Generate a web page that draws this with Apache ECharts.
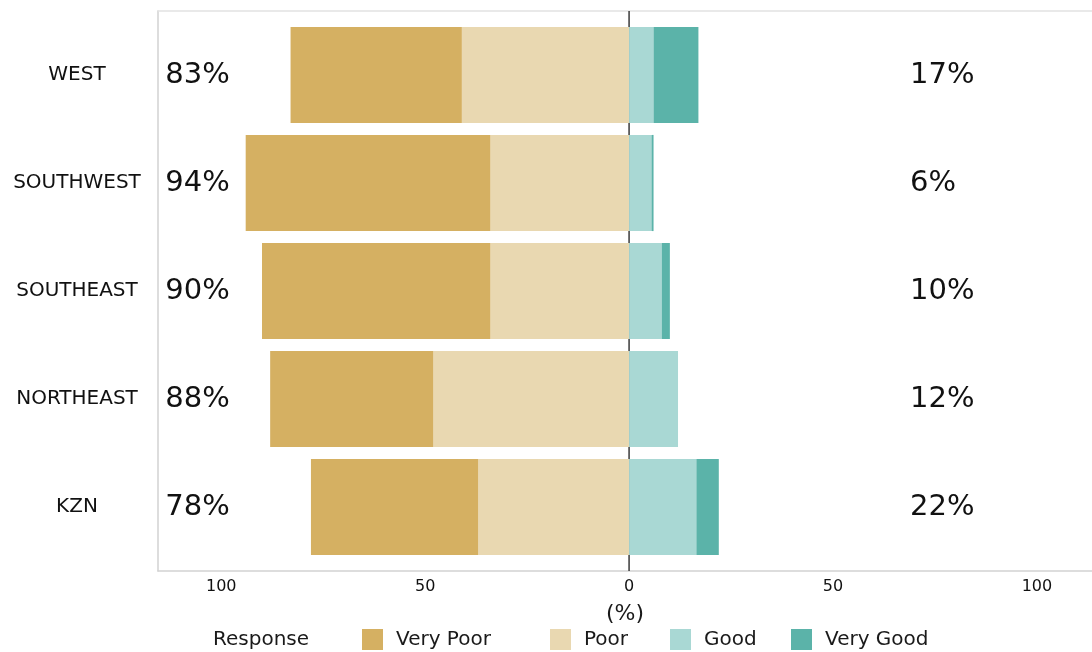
<!DOCTYPE html>
<html><head><meta charset="utf-8">
<script src="https://cdn.jsdelivr.net/npm/echarts@6/dist/echarts.min.js"></script>
<style>html,body{margin:0;padding:0;background:#fff}#c{width:1092px;height:652px}</style>
</head><body><div id="c"></div>
<script>
const categories = ['WEST', 'SOUTHWEST', 'SOUTHEAST', 'NORTHEAST', 'KZN'];
const veryPoor = [42, 60, 56, 40, 41];
const poor = [41, 34, 34, 48, 37];
const good = [6, 5.5, 8, 12, 16.5];
const veryGood = [11, 0.5, 2, 0, 5.5];
const negPct = [83, 94, 90, 88, 78];
const posPct = [17, 6, 10, 12, 22];
const xTickLabels = [-100, -50, 0, 50, 100];
const legendNames = ['Very Poor', 'Poor', 'Good', 'Very Good'];

const colors = { 'Very Poor': '#D5B062', 'Poor': '#E9D8B1', 'Good': '#A9D8D4', 'Very Good': '#5BB3A9' };
const FONT = 'DejaVu Sans';
const XMIN = -115.5, XMAX = 113.5;
const LEFT_LABEL_X = -113.7, RIGHT_LABEL_X = 68.9;
const BORDER = '#d2d2d2';

const chart = echarts.init(document.getElementById('c'), null, { renderer: 'canvas' });

function barSeries(name, arr, sign) {
  return {
    name, type: 'bar', stack: 'tot', xAxisIndex: 0, yAxisIndex: 0,
    barWidth: '89%', z: 3,
    itemStyle: { color: colors[name] },
    data: arr.map(v => sign * v)
  };
}
function pctSeries(arr, x) {
  return {
    type: 'scatter', xAxisIndex: 0, yAxisIndex: 0, symbolSize: 0, z: 5, silent: true,
    itemStyle: { opacity: 1 },
    data: arr.map((v, i) => [x, categories[i], v]),
    label: { show: true, position: 'inside', align: 'left', verticalAlign: 'middle',
      formatter: p => p.value[2] + '%', fontFamily: FONT, fontSize: 29, color: '#111' }
  };
}
const legendLefts = [362, 550, 670, 791];

chart.setOption({
  animation: false,
  backgroundColor: '#fff',
  title: { text: 'Response', left: 213, top: 630, padding: 0,
    textStyle: { fontFamily: FONT, fontSize: 20, fontWeight: 'normal', color: '#1a1a1a' } },
  legend: legendNames.map((n, i) => ({
    data: [n], left: legendLefts[i], top: 629, padding: 0,
    itemWidth: 21, itemHeight: 21, icon: 'rect',
    textStyle: { fontFamily: FONT, fontSize: 20, color: '#1a1a1a', padding: [0, 0, 0, 8] },
    selectedMode: false
  })),
  grid: [
    { left: 158, right: 0, top: 21, height: 540 },
    { left: 158, right: 0, top: 11, height: 560 }
  ],
  xAxis: [
    { type: 'value', gridIndex: 0, min: XMIN, max: XMAX, show: false },
    { type: 'value', gridIndex: 1, min: XMIN, max: XMAX,
      axisLine: { show: true, onZero: false, lineStyle: { color: BORDER, width: 1.5 } },
      axisTick: { show: false }, splitLine: { show: false },
      axisLabel: { fontFamily: FONT, fontSize: 16, color: '#111', margin: 8,
        showMinLabel: false, showMaxLabel: false,
        formatter: v => xTickLabels.includes(v) ? String(Math.abs(v)) : '' },
      name: '(%)', nameLocation: 'middle', nameGap: 32,
      nameTextStyle: { fontFamily: FONT, fontSize: 22, color: '#1a1a1a' } },
    { type: 'value', gridIndex: 1, min: XMIN, max: XMAX, position: 'top',
      axisLine: { show: true, onZero: false, lineStyle: { color: '#e2e2e2', width: 1.5 } },
      axisTick: { show: false }, axisLabel: { show: false }, splitLine: { show: false } }
  ],
  yAxis: [
    { type: 'category', gridIndex: 0, data: categories, inverse: true,
      axisLine: { show: false }, axisTick: { show: false }, splitLine: { show: false },
      axisLabel: { align: 'center', margin: 81, fontFamily: FONT, fontSize: 20, color: '#111' } },
    { type: 'value', gridIndex: 1, min: 0, max: 1,
      axisLine: { show: true, onZero: false, lineStyle: { color: BORDER, width: 1.5 } },
      axisTick: { show: false }, axisLabel: { show: false }, splitLine: { show: false } }
  ],
  series: [
    { type: 'line', xAxisIndex: 1, yAxisIndex: 1, data: [[0, 0], [0, 1]], symbol: 'none', z: 1,
      silent: true, lineStyle: { color: '#3a3a3a', width: 1.5 } },
    barSeries('Poor', poor, -1),
    barSeries('Very Poor', veryPoor, -1),
    barSeries('Good', good, 1),
    barSeries('Very Good', veryGood, 1),
    pctSeries(negPct, LEFT_LABEL_X),
    pctSeries(posPct, RIGHT_LABEL_X)
  ]
});
</script></body></html>
